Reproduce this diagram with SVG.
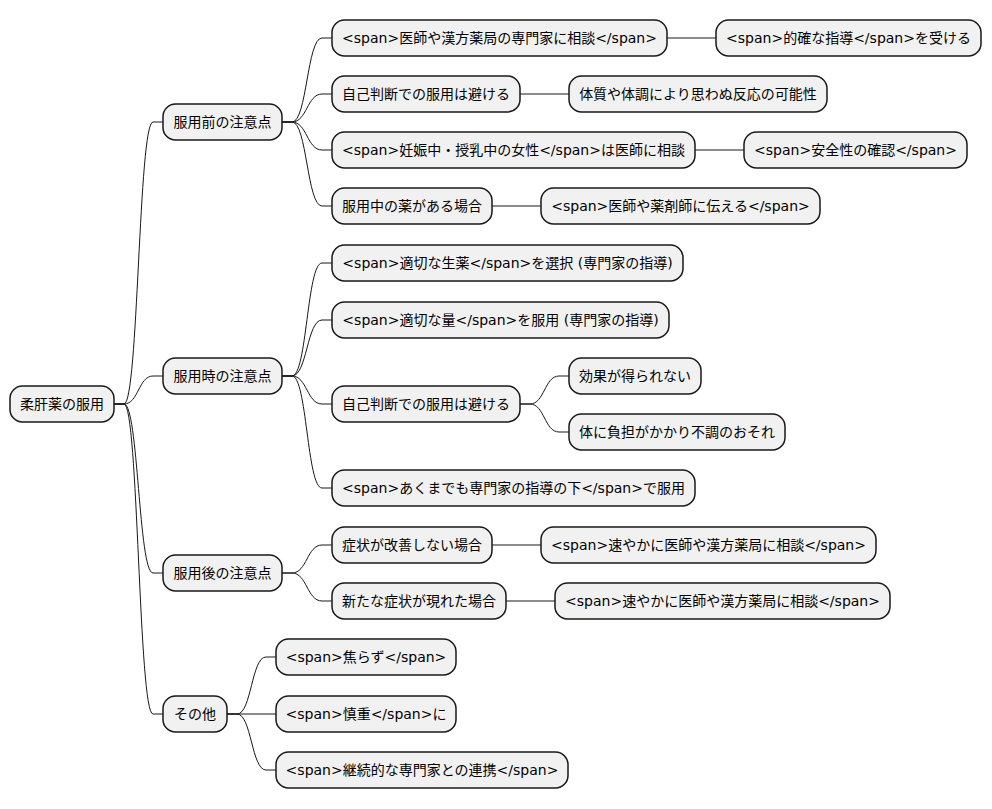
<svg xmlns="http://www.w3.org/2000/svg" width="992" height="809" viewBox="0 0 992 809">
<style>
rect{fill:#F1F1F1;stroke:#181818;stroke-width:1.5}
text{font-family:"DejaVu Sans","Noto Sans CJK JP",sans-serif;font-size:14px;fill:#000;text-anchor:middle}
#connectors path{fill:none;stroke:#181818;stroke-width:1}
</style>
<rect x="0" y="0" width="992" height="809" style="fill:#FFFFFF;stroke:none"/>
<g id="connectors">
<path d="M114,404 L124,404 C138.5,404 138.5,122 153,122 L163,122"/>
<path d="M114,404 L124,404 C138.5,404 138.5,376 153,376 L163,376"/>
<path d="M114,404 L124,404 C138.5,404 138.5,573 153,573 L163,573"/>
<path d="M114,404 L124,404 C138.5,404 138.5,714 153,714 L163,714"/>
<path d="M282,122 L292,122 C307,122 307,38 322,38 L332,38"/>
<path d="M282,122 L292,122 C307,122 307,94 322,94 L332,94"/>
<path d="M282,122 L292,122 C307,122 307,150 322,150 L332,150"/>
<path d="M282,122 L292,122 C307,122 307,206 322,206 L332,206"/>
<path d="M667,38 L716,38"/>
<path d="M520,94 L569,94"/>
<path d="M695,150 L744,150"/>
<path d="M492,206 L541,206"/>
<path d="M282,376 L292,376 C307,376 307,263 322,263 L332,263"/>
<path d="M282,376 L292,376 C307,376 307,320 322,320 L332,320"/>
<path d="M282,376 L292,376 C307,376 307,404 322,404 L332,404"/>
<path d="M282,376 L292,376 C307,376 307,488 322,488 L332,488"/>
<path d="M520,404 L530,404 C544.5,404 544.5,376 559,376 L569,376"/>
<path d="M520,404 L530,404 C544.5,404 544.5,432 559,432 L569,432"/>
<path d="M282,573 L292,573 C307,573 307,545 322,545 L332,545"/>
<path d="M282,573 L292,573 C307,573 307,601 322,601 L332,601"/>
<path d="M492,545 L541,545"/>
<path d="M506,601 L555,601"/>
<path d="M227,714 L237,714 C251.5,714 251.5,657 266,657 L276,657"/>
<path d="M227,714 L276,714"/>
<path d="M227,714 L237,714 C251.5,714 251.5,770 266,770 L276,770"/>
</g>
<g id="root"><rect x="10" y="386" width="104" height="36" rx="12.5"/><text x="62" y="409">柔肝薬の服用</text></g>
<g id="before"><rect x="163" y="104" width="119" height="36" rx="12.5"/><text x="222.5" y="127">服用前の注意点</text></g>
<g id="during"><rect x="163" y="358" width="119" height="36" rx="12.5"/><text x="222.5" y="381">服用時の注意点</text></g>
<g id="after"><rect x="163" y="555" width="119" height="36" rx="12.5"/><text x="222.5" y="578">服用後の注意点</text></g>
<g id="other"><rect x="163" y="696" width="64" height="36" rx="12.5"/><text x="195" y="719">その他</text></g>
<g id="a1"><rect x="332" y="20" width="335" height="36" rx="12.5"/><text x="499.5" y="43">&lt;span&gt;医師や漢方薬局の専門家に相談&lt;/span&gt;</text></g>
<g id="a1a"><rect x="716" y="20" width="265" height="36" rx="12.5"/><text x="848.5" y="43">&lt;span&gt;的確な指導&lt;/span&gt;を受ける</text></g>
<g id="a2"><rect x="332" y="76" width="188" height="36" rx="12.5"/><text x="426" y="99">自己判断での服用は避ける</text></g>
<g id="a2a"><rect x="569" y="76" width="258" height="36" rx="12.5"/><text x="698" y="99">体質や体調により思わぬ反応の可能性</text></g>
<g id="a3"><rect x="332" y="132" width="363" height="36" rx="12.5"/><text x="513.5" y="155">&lt;span&gt;妊娠中・授乳中の女性&lt;/span&gt;は医師に相談</text></g>
<g id="a3a"><rect x="744" y="132" width="223" height="36" rx="12.5"/><text x="855.5" y="155">&lt;span&gt;安全性の確認&lt;/span&gt;</text></g>
<g id="a4"><rect x="332" y="188" width="160" height="36" rx="12.5"/><text x="412" y="211">服用中の薬がある場合</text></g>
<g id="a4a"><rect x="541" y="188" width="279" height="36" rx="12.5"/><text x="680.5" y="211">&lt;span&gt;医師や薬剤師に伝える&lt;/span&gt;</text></g>
<g id="b1"><rect x="332" y="245" width="351" height="36" rx="12.5"/><text x="507.5" y="268">&lt;span&gt;適切な生薬&lt;/span&gt;を選択 (専門家の指導)</text></g>
<g id="b2"><rect x="332" y="302" width="337" height="36" rx="12.5"/><text x="500.5" y="325">&lt;span&gt;適切な量&lt;/span&gt;を服用 (専門家の指導)</text></g>
<g id="b3"><rect x="332" y="386" width="188" height="36" rx="12.5"/><text x="426" y="409">自己判断での服用は避ける</text></g>
<g id="b3a"><rect x="569" y="358" width="132" height="36" rx="12.5"/><text x="635" y="381">効果が得られない</text></g>
<g id="b3b"><rect x="569" y="414" width="216" height="36" rx="12.5"/><text x="677" y="437">体に負担がかかり不調のおそれ</text></g>
<g id="b4"><rect x="332" y="470" width="363" height="36" rx="12.5"/><text x="513.5" y="493">&lt;span&gt;あくまでも専門家の指導の下&lt;/span&gt;で服用</text></g>
<g id="c1"><rect x="332" y="527" width="160" height="36" rx="12.5"/><text x="412" y="550">症状が改善しない場合</text></g>
<g id="c1a"><rect x="541" y="527" width="335" height="36" rx="12.5"/><text x="708.5" y="550">&lt;span&gt;速やかに医師や漢方薬局に相談&lt;/span&gt;</text></g>
<g id="c2"><rect x="332" y="583" width="174" height="36" rx="12.5"/><text x="419" y="606">新たな症状が現れた場合</text></g>
<g id="c2a"><rect x="555" y="583" width="335" height="36" rx="12.5"/><text x="722.5" y="606">&lt;span&gt;速やかに医師や漢方薬局に相談&lt;/span&gt;</text></g>
<g id="d1"><rect x="276" y="639" width="180" height="36" rx="12.5"/><text x="366" y="662">&lt;span&gt;焦らず&lt;/span&gt;</text></g>
<g id="d2"><rect x="276" y="696" width="180" height="36" rx="12.5"/><text x="366" y="719">&lt;span&gt;慎重&lt;/span&gt;に</text></g>
<g id="d3"><rect x="276" y="752" width="292" height="36" rx="12.5"/><text x="422" y="775">&lt;span&gt;継続的な専門家との連携&lt;/span&gt;</text></g>
</svg>
